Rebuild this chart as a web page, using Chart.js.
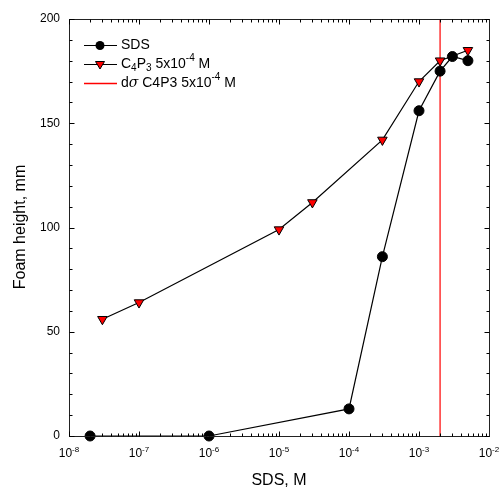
<!DOCTYPE html>
<html>
<head>
<meta charset="utf-8">
<script src="https://cdn.jsdelivr.net/npm/chart.js@4/dist/chart.umd.min.js"></script>
<style>
html,body{margin:0;padding:0;background:#fff;}
#wrap{width:499px;height:488px;}
</style>
</head>
<body>
<div id="wrap"><canvas id="c" width="499" height="488"></canvas></div>
<script>
// ---- data ----
const xTickExponents = [-8, -7, -6, -5, -4, -3, -2];
const yTickValues = [0, 50, 100, 150, 200];
const sdsConc = [2e-8, 1e-6, 1e-4, 3e-4, 1e-3, 2e-3, 3e-3, 5e-3];
const sdsFoam = [0, 0, 13, 86, 156, 175, 182, 180];
const c4p3Conc = [3e-8, 1e-7, 1e-5, 3e-5, 3e-4, 1e-3, 2e-3, 5e-3];
const c4p3Foam = [56, 64, 99, 112, 142, 170, 180, 185];
const dSigmaConc = [2e-3, 2e-3];
const dSigmaFoam = [0, 200];
const xTitle = 'SDS, M';
const yTitle = 'Foam height, mm';

const FONT = '"Liberation Sans", Arial, sans-serif';

function pts(xs, ys) { return xs.map((x, i) => ({x: x, y: ys[i]})); }

function fontFor(s, size) {
  if (s.mode === 'sub' || s.mode === 'sup') return Math.round(size * 0.68) + 'px ' + FONT;
  if (s.mode === 'it') return 'italic ' + size + 'px "DejaVu Serif", serif';
  return size + 'px ' + FONT;
}
function richText(ctx, x, y, segs, size, align) {
  let w = 0;
  segs.forEach(s => { ctx.font = fontFor(s, size); w += ctx.measureText(s.t).width; });
  let cx = align === 'center' ? x - w / 2 : (align === 'right' ? x - w : x);
  segs.forEach(s => {
    ctx.font = fontFor(s, size);
    let dy = 0;
    if (s.mode === 'sub') dy = size * 0.3;
    if (s.mode === 'sup') dy = -size * 0.38;
    ctx.fillText(s.t, cx, y + dy);
    cx += ctx.measureText(s.t).width;
  });
}

const axesPlugin = {
  id: 'axesPlugin',
  afterDatasetsDraw(chart) {
    const ctx = chart.ctx;
    const xs = chart.scales.x, ys = chart.scales.y;
    const a = chart.chartArea;
    const L = Math.round(a.left) + 0.5, R = Math.round(a.right) + 0.5;
    const T = Math.round(a.top) + 0.5, B = Math.round(a.bottom) + 0.5;
    ctx.save();
    // frame
    ctx.strokeStyle = '#222';
    ctx.lineWidth = 1;
    ctx.strokeRect(L, T, R - L, B - T);
    // x ticks (inward, bottom and top)
    ctx.strokeStyle = '#000';
    ctx.beginPath();
    for (let e = xTickExponents[0]; e < xTickExponents[xTickExponents.length - 1]; e++) {
      for (let m = 1; m <= 9; m++) {
        const v = m * Math.pow(10, e);
        const px = Math.round(xs.getPixelForValue(v)) + 0.5;
        const len = m === 1 ? 5 : 3;
        ctx.moveTo(px, B); ctx.lineTo(px, B - len);
        ctx.moveTo(px, T); ctx.lineTo(px, T + len);
      }
    }
    // y ticks (inward, left and right)
    for (let v = yTickValues[0]; v <= yTickValues[yTickValues.length - 1]; v += 10) {
      const py = Math.round(ys.getPixelForValue(v)) + 0.5;
      const len = (v % 50 === 0) ? 5 : 3;
      ctx.moveTo(L, py); ctx.lineTo(L + len, py);
      ctx.moveTo(R, py); ctx.lineTo(R - len, py);
    }
    ctx.stroke();

    // y tick labels
    ctx.fillStyle = '#000';
    ctx.textBaseline = 'middle';
    ctx.textAlign = 'right';
    ctx.font = '12px ' + FONT;
    yTickValues.forEach(v => {
      ctx.fillText(String(v), a.left - 9, ys.getPixelForValue(v));
    });
    // x tick labels
    ctx.textAlign = 'left';
    ctx.textBaseline = 'alphabetic';
    xTickExponents.forEach(e => {
      const px = xs.getPixelForValue(Math.pow(10, e));
      richText(ctx, px, a.bottom + 21, [{t: '10', mode: 'n'}, {t: String(e), mode: 'sup'}], 12, 'center');
    });
    // axis titles
    ctx.font = '16px ' + FONT;
    ctx.textAlign = 'center';
    ctx.fillText(xTitle, (a.left + a.right) / 2, 485);
    ctx.save();
    ctx.translate(25, 227);
    ctx.rotate(-Math.PI / 2);
    ctx.fillText(yTitle, 0, 0);
    ctx.restore();

    // legend
    const lx0 = 84, lx1 = 117, lm = 100, tx = 121;
    const rows = [45, 64, 83];
    // d sigma sample (red line)
    ctx.save();
    ctx.lineWidth = 1.3;
    ctx.strokeStyle = 'rgb(255,0,0)';
    ctx.beginPath(); ctx.moveTo(lx0, rows[2] + 0.5); ctx.lineTo(lx1, rows[2] + 0.5); ctx.stroke();
    ctx.restore();
    // SDS sample
    ctx.fillStyle = '#000';
    ctx.fillRect(lx0, rows[0], lx1 - lx0, 1);
    ctx.beginPath(); ctx.arc(lm, rows[0] + 0.5, 4.5, 0, Math.PI * 2); ctx.fill();
    // C4P3 sample
    ctx.fillRect(lx0, rows[1], lx1 - lx0, 1);
    ctx.beginPath();
    ctx.moveTo(lm - 4.5, rows[1] - 2.5); ctx.lineTo(lm + 4.5, rows[1] - 2.5); ctx.lineTo(lm, rows[1] + 5);
    ctx.closePath();
    ctx.fillStyle = '#ff0000'; ctx.fill();
    ctx.lineWidth = 1; ctx.strokeStyle = '#000'; ctx.stroke();

    ctx.fillStyle = '#000';
    ctx.textBaseline = 'middle';
    ctx.textAlign = 'left';
    richText(ctx, tx, rows[0], [{t: 'SDS', mode: 'n'}], 14, 'left');
    richText(ctx, tx, rows[1], [
      {t: 'C', mode: 'n'}, {t: '4', mode: 'sub'}, {t: 'P', mode: 'n'}, {t: '3', mode: 'sub'},
      {t: ' 5x10', mode: 'n'}, {t: '-4', mode: 'sup'}, {t: ' M', mode: 'n'}], 14, 'left');
    richText(ctx, tx, rows[2], [
      {t: 'd', mode: 'n'}, {t: 'σ', mode: 'it'}, {t: ' C4P3 5x10', mode: 'n'}, {t: '-4', mode: 'sup'}, {t: ' M', mode: 'n'}], 14, 'left');
    ctx.restore();
  }
};

new Chart(document.getElementById('c'), {
  type: 'scatter',
  data: {
    datasets: [
      {
        label: 'SDS',
        data: pts(sdsConc, sdsFoam),
        showLine: true,
        borderColor: '#000',
        borderWidth: 1.2,
        pointStyle: 'circle',
        pointRadius: 5,
        pointBackgroundColor: '#000',
        pointBorderColor: '#000',
        pointBorderWidth: 1,
        clip: false,
        order: 1
      },
      {
        label: 'C4P3 5x10-4 M',
        data: pts(c4p3Conc, c4p3Foam),
        showLine: true,
        borderColor: '#000',
        borderWidth: 1.2,
        pointStyle: 'triangle',
        rotation: 180,
        pointRotation: 180,
        pointRadius: 5.5,
        pointBackgroundColor: '#ff0000',
        pointBorderColor: '#000',
        pointBorderWidth: 1,
        clip: false,
        order: 2
      },
      {
        label: 'dσ C4P3 5x10-4 M',
        data: pts(dSigmaConc, dSigmaFoam),
        showLine: true,
        borderColor: '#ff0000',
        borderWidth: 1.2,
        pointRadius: 0,
        order: 3
      }
    ]
  },
  options: {
    responsive: false,
    devicePixelRatio: 1,
    animation: false,
    layout: {padding: {left: 69, right: 10, top: 19, bottom: 52}},
    plugins: {legend: {display: false}, tooltip: {enabled: false}},
    scales: {
      x: {type: 'logarithmic', min: 1e-8, max: 1e-2, display: false},
      y: {type: 'linear', min: 0, max: 200, display: false}
    }
  },
  plugins: [axesPlugin]
});
</script>
</body>
</html>
